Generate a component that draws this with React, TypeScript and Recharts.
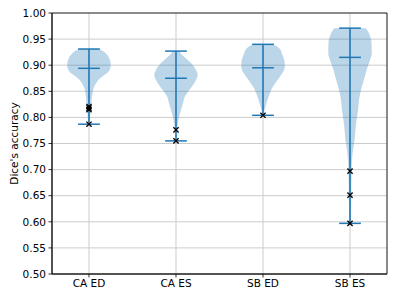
import React from 'react';
import {
  ComposedChart,
  Area,
  XAxis,
  YAxis,
  CartesianGrid,
  ReferenceLine,
  ReferenceArea,
  Scatter,
} from 'recharts';

// ---- data ----
const categories = ['CA ED', 'CA ES', 'SB ED', 'SB ES'];
const positions = [1, 2, 3, 4];
const minima = [0.787, 0.755, 0.804, 0.597];
const medians = [0.894, 0.875, 0.895, 0.915];
const maxima = [0.931, 0.927, 0.94, 0.971];
const yTicks = [0.5, 0.55, 0.6, 0.65, 0.7, 0.75, 0.8, 0.85, 0.9, 0.95, 1.0];

// violin profiles: accuracy levels and normalised density (1 = widest)
const caEdLevels = [0.787, 0.8, 0.815, 0.83, 0.84, 0.85, 0.858, 0.865, 0.872, 0.878, 0.884, 0.892, 0.9, 0.91, 0.92, 0.928, 0.931];
const caEdDensity = [0.03, 0.055, 0.08, 0.115, 0.14, 0.18, 0.23, 0.32, 0.44, 0.6, 0.8, 0.96, 1.0, 0.96, 0.83, 0.6, 0.46];

const caEsLevels = [0.755, 0.776, 0.789, 0.801, 0.814, 0.827, 0.84, 0.852, 0.865, 0.875, 0.881, 0.891, 0.904, 0.916, 0.922, 0.927];
const caEsDensity = [0.02, 0.05, 0.09, 0.14, 0.23, 0.32, 0.41, 0.6, 0.83, 0.96, 1.0, 0.92, 0.69, 0.37, 0.23, 0.14];

const sbEdLevels = [0.805, 0.817, 0.83, 0.843, 0.856, 0.868, 0.881, 0.894, 0.9, 0.907, 0.92, 0.932, 0.94];
const sbEdDensity = [0.02, 0.09, 0.18, 0.28, 0.41, 0.6, 0.83, 0.99, 1.0, 0.99, 0.89, 0.76, 0.46];

const sbEsLevels = [0.597, 0.65, 0.697, 0.718, 0.738, 0.757, 0.776, 0.795, 0.814, 0.833, 0.852, 0.872, 0.891, 0.91, 0.923, 0.942, 0.961, 0.971];
const sbEsDensity = [0.04, 0.055, 0.07, 0.09, 0.14, 0.21, 0.25, 0.3, 0.37, 0.41, 0.5, 0.64, 0.76, 0.92, 1.0, 0.99, 0.87, 0.73];

// outlier markers
const caEdOutliers = [0.821, 0.818, 0.815, 0.787];
const caEsOutliers = [0.776, 0.755];
const sbEdOutliers = [0.804];
const sbEsOutliers = [0.697, 0.651, 0.597];

// ---- derived tables ----
const violinKeys = ['caEd', 'caEs', 'sbEd', 'sbEs'];
const levelsList = [caEdLevels, caEsLevels, sbEdLevels, sbEsLevels];
const densityList = [caEdDensity, caEsDensity, sbEdDensity, sbEsDensity];
const outliersList = [caEdOutliers, caEsOutliers, sbEdOutliers, sbEsOutliers];

const HALF_WIDTH = 0.25;
const CAP_HALF = 0.125;
const X_DOMAIN: [number, number] = [0.575, 4.425];

const tableRows: any[] = [];
levelsList.forEach((levels, i) => {
  levels.forEach((lv, j) => {
    const row: any = { y: lv };
    violinKeys.forEach((k, m) => {
      const hw = densityList[i][j] * HALF_WIDTH;
      row[k] = m === i ? [positions[i] - hw, positions[i] + hw] : [null, null];
    });
    tableRows.push(row);
  });
});
tableRows.sort((a, b) => a.y - b.y);

const markers = outliersList.flatMap((arr, i) => arr.map((v) => ({ x: positions[i], y: v })));

const BLUE = '#1f77b4';
const FONT = 'DejaVu Sans, sans-serif';

const Cross = (props: any) => {
  const { cx, cy } = props;
  const s = 2.6;
  return (
    <path
      d={`M${cx - s},${cy - s}L${cx + s},${cy + s}M${cx - s},${cy + s}L${cx + s},${cy - s}`}
      stroke="#000"
      strokeWidth={1.3}
      fill="none"
    />
  );
};

const YLabel = (props: any) => {
  const vb = props.viewBox || { x: 12, y: 13, width: 40, height: 261 };
  const x = vb.x + 1.5;
  const y = vb.y + vb.height / 2;
  return (
    <text
      x={x}
      y={y}
      transform={`rotate(-90, ${x}, ${y})`}
      textAnchor="middle"
      dominantBaseline="central"
      fontSize={10.5}
      fontFamily={FONT}
      fill="#000"
    >
      Dice's accuracy
    </text>
  );
};

export default function App() {
  return (
    <div style={{ position: 'absolute', left: 0, top: 0, width: 399, height: 299, background: '#fff' }}>
      <ComposedChart
        width={399}
        height={299}
        layout="vertical"
        data={tableRows}
        margin={{ top: 13, right: 12, bottom: 0, left: 12 }}
      >
        <CartesianGrid stroke="#cccccc" strokeWidth={1} />
        <XAxis
          type="number"
          domain={X_DOMAIN}
          allowDataOverflow
          ticks={positions}
          interval={0}
          tickFormatter={(v: number) => categories[v - 1]}
          height={25}
          tickSize={3.5}
          tickMargin={2}
          stroke="#000"
          strokeWidth={0.8}
          tick={{ fill: '#000', fontSize: 10.5, fontFamily: FONT }}
        />
        <YAxis
          type="number"
          dataKey="y"
          domain={[0.5, 1]}
          reversed
          allowDataOverflow
          ticks={yTicks}
          interval={0}
          tickFormatter={(v: number) => v.toFixed(2)}
          width={40}
          tickSize={3.5}
          tickMargin={2.5}
          stroke="#000"
          strokeWidth={0.8}
          tick={{ fill: '#000', fontSize: 10.5, fontFamily: FONT }}
          label={{ content: YLabel }}
        />
        {violinKeys.map((k) => (
          <Area
            key={k}
            dataKey={k}
            type="monotone"
            connectNulls
            fill={BLUE}
            fillOpacity={0.3}
            stroke="none"
            isAnimationActive={false}
            dot={false}
            activeDot={false}
          />
        ))}
        {positions.map((p, i) => (
          <ReferenceLine
            key={'stem' + i}
            segment={[{ x: p, y: minima[i] }, { x: p, y: maxima[i] }]}
            stroke={BLUE}
            strokeWidth={1.5}
          />
        ))}
        {positions.map((p, i) => (
          <ReferenceLine
            key={'min' + i}
            segment={[{ x: p - CAP_HALF, y: minima[i] }, { x: p + CAP_HALF, y: minima[i] }]}
            stroke={BLUE}
            strokeWidth={1.5}
          />
        ))}
        {positions.map((p, i) => (
          <ReferenceLine
            key={'max' + i}
            segment={[{ x: p - CAP_HALF, y: maxima[i] }, { x: p + CAP_HALF, y: maxima[i] }]}
            stroke={BLUE}
            strokeWidth={1.5}
          />
        ))}
        {positions.map((p, i) => (
          <ReferenceLine
            key={'med' + i}
            segment={[{ x: p - CAP_HALF, y: medians[i] }, { x: p + CAP_HALF, y: medians[i] }]}
            stroke={BLUE}
            strokeWidth={1.5}
          />
        ))}
        <Scatter data={markers} dataKey="x" shape={Cross} isAnimationActive={false} />
        <ReferenceArea
          x1={X_DOMAIN[0]}
          x2={X_DOMAIN[1]}
          y1={0.5}
          y2={1}
          fill="none"
          fillOpacity={0}
          stroke="#000"
          strokeWidth={0.8}
          ifOverflow="visible"
        />
      </ComposedChart>
    </div>
  );
}
